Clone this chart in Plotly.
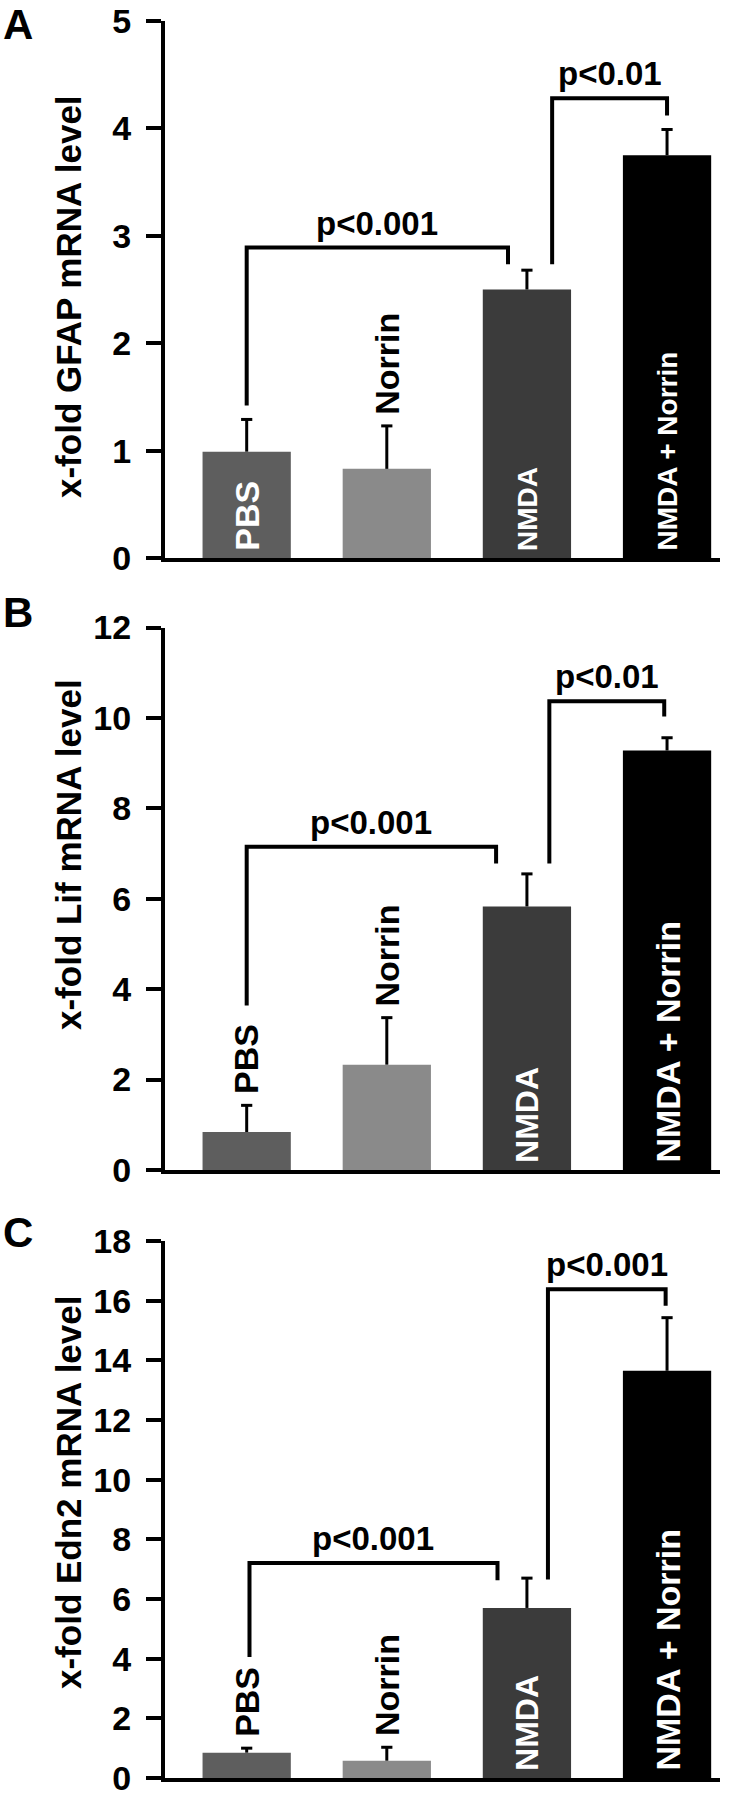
import plotly.graph_objects as go

groups = ["PBS", "Norrin", "NMDA", "NMDA + Norrin"]
bar_colors = ["#5e5e5e", "#8a8a8a", "#3b3b3b", "#000000"]

gfap_mean = [0.99, 0.83, 2.50, 3.75]
gfap_err = [0.30, 0.40, 0.18, 0.24]
lif_mean = [0.84, 2.33, 5.83, 9.28]
lif_err = [0.59, 1.04, 0.72, 0.28]
edn2_mean = [0.85, 0.58, 5.70, 13.65]
edn2_err = [0.15, 0.45, 1.00, 1.78]

# comparison brackets: x left, x right, bar height, left leg end, right leg end, label
gfap_brackets = [(0.0, 1.865, 2.89, 1.42, 2.735, "p<0.001"),
                 (2.18, 3.0, 4.28, 2.735, 4.12, "p<0.01")]
lif_brackets = [(0.0, 1.78, 7.15, 3.64, 6.78, "p<0.001"),
                (2.16, 2.98, 10.37, 6.78, 10.03, "p<0.01")]
edn2_brackets = [(0.02, 1.79, 7.21, 4.06, 6.63, "p<0.001"),
                 (2.15, 2.99, 16.38, 6.65, 15.83, "p<0.001")]

W, H = 731, 1800
FONT = "Liberation Sans, Arial, sans-serif"
CAP = 0.04  # half width of error bar caps, in category units


def px_y(p):
    return 1 - p / H


panels = [
    dict(letter="A", title="x-fold GFAP mRNA level", mean=gfap_mean, err=gfap_err,
         brackets=gfap_brackets, ymax=5, dtick=1, top=21, bottom=558, title_c=297,
         inside=[True, False, True, True], lab_size=[34, 34, 28, 28], letter_y=25),
    dict(letter="B", title="x-fold Lif mRNA level", mean=lif_mean, err=lif_err,
         brackets=lif_brackets, ymax=12, dtick=2, top=627.5, bottom=1170, title_c=855,
         inside=[False, False, True, True], lab_size=[34, 34, 32, 34], letter_y=613),
    dict(letter="C", title="x-fold Edn2 mRNA level", mean=edn2_mean, err=edn2_err,
         brackets=edn2_brackets, ymax=18, dtick=2, top=1241, bottom=1778, title_c=1492,
         inside=[False, False, True, True], lab_size=[34, 34, 32, 34], letter_y=1232),
]

fig = go.Figure()
annotations = []
shapes = []
xs = list(range(len(groups)))

for i, p in enumerate(panels):
    sfx = "" if i == 0 else str(i + 1)
    xref, yref = "x" + sfx, "y" + sfx

    fig.add_trace(go.Bar(
        x=xs, y=p["mean"], width=0.63, marker_color=bar_colors, marker_line_width=0,
        xaxis=xref, yaxis=yref, showlegend=False, hoverinfo="skip",
    ))

    # upward-only error bars with a cap at the top
    ex, ey = [], []
    for k in xs:
        top = p["mean"][k] + p["err"][k]
        ex += [k, k, None, k - CAP, k + CAP, None]
        ey += [p["mean"][k], top, None, top, top, None]
    fig.add_trace(go.Scatter(
        x=ex, y=ey, mode="lines", line=dict(color="black", width=3),
        xaxis=xref, yaxis=yref, showlegend=False, hoverinfo="skip",
    ))

    fig.update_layout({
        "xaxis" + sfx: dict(domain=[165 / W, 720 / W], range=[-0.583, 3.378],
                            showline=True, linewidth=4, linecolor="black",
                            showticklabels=False, ticks="", showgrid=False,
                            zeroline=False, anchor=yref, automargin=False),
        "yaxis" + sfx: dict(domain=[px_y(p["bottom"]), px_y(p["top"])],
                            range=[0, p["ymax"]], dtick=p["dtick"], tick0=0,
                            showline=True, linewidth=4, linecolor="black",
                            ticks="outside", ticklen=15, tickwidth=3.5, tickcolor="black",
                            ticklabelstandoff=8, ticklabeloverflow="allow",
                            showgrid=False, zeroline=False,
                            tickfont=dict(family=FONT, size=34, color="black", weight="bold"),
                            anchor=xref, automargin=False),
    })

    # bar labels
    for k, g in enumerate(groups):
        if p["inside"][k]:
            y, color, shift = 0, "white", 5
        else:
            y, color, shift = p["mean"][k] + p["err"][k], "black", 9
        annotations.append(dict(
            x=k, y=y, xref=xref, yref=yref, text="<b>%s</b>" % g, textangle=-90,
            showarrow=False, xanchor="center", yanchor="bottom", yshift=shift,
            font=dict(family=FONT, size=p["lab_size"][k], color=color),
        ))

    # significance brackets
    for x0, x1, h, l0, l1, label in p["brackets"]:
        shapes.append(dict(
            type="path", xref=xref, yref=yref,
            path="M %s,%s L %s,%s L %s,%s L %s,%s" % (x0, l0, x0, h, x1, h, x1, l1),
            line=dict(color="black", width=4),
        ))
        annotations.append(dict(
            x=(x0 + x1) / 2, y=h, xref=xref, yref=yref, text="<b>%s</b>" % label,
            showarrow=False, xanchor="center", yanchor="bottom", yshift=4,
            font=dict(family=FONT, size=33, color="black"),
        ))

    # y title and panel letter
    annotations.append(dict(
        x=68 / W, y=px_y(p["title_c"]), xref="paper", yref="paper",
        text="<b>%s</b>" % p["title"], textangle=-90, showarrow=False,
        xanchor="center", yanchor="middle",
        font=dict(family=FONT, size=35, color="black"),
    ))
    annotations.append(dict(
        x=18 / W, y=px_y(p["letter_y"]), xref="paper", yref="paper",
        text="<b>%s</b>" % p["letter"], showarrow=False, xanchor="center", yanchor="middle",
        font=dict(family=FONT, size=42, color="black"),
    ))

fig.update_layout(
    width=W, height=H,
    margin=dict(l=0, r=0, t=0, b=0, autoexpand=False),
    paper_bgcolor="white", plot_bgcolor="white",
    annotations=annotations, shapes=shapes,
    showlegend=False,
)

fig.write_html("out.html", config={"displayModeBar": False},
               post_script="document.body.style.margin='0';")
